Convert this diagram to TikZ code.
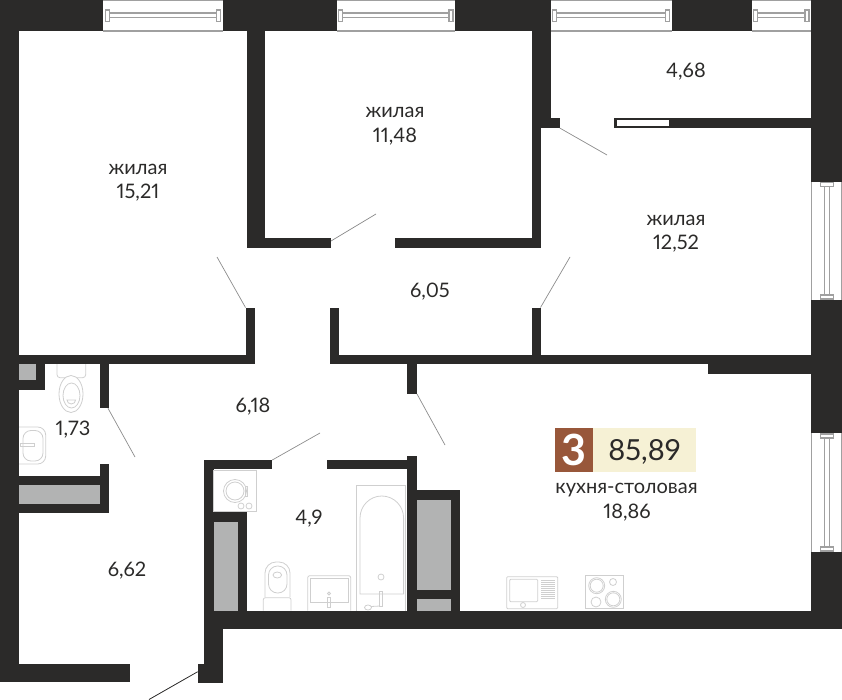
\documentclass[tikz,border=0pt]{standalone}
\usepackage{fontspec}
\setmainfont[Numbers=Proportional]{Lato}
\definecolor{wall}{HTML}{2B2A29}
\definecolor{shaft}{HTML}{B2B3B3}
\definecolor{fix}{HTML}{CFCFCF}
\definecolor{winc}{HTML}{A0A0A0}
\definecolor{brown}{HTML}{98573A}
\definecolor{cream}{HTML}{F6F1D5}
\definecolor{txt}{HTML}{2B2A29}
\tikzset{
  wallr/.style={fill=wall,draw=none},
  shaftr/.style={fill=shaft,draw=none},
  fixl/.style={draw=fix,line width=0.8pt,fill=none},
  winl/.style={draw=winc,line width=1.3pt},
  doorl/.style={draw=black!45,line width=0.7pt},
  lbl/.style={text=txt,font=\fontsize{20}{20}\selectfont,inner sep=0pt,align=center,anchor=center},
}
\newcommand{\HWin}[2]{% x1 x2, top windows
  \draw[winl] (#1,0.7) -- (#2,0.7) (#1,31) -- (#2,31);
  \draw[winl] (#1+6,13) -- (#2-6,13) (#1+6,17.5) -- (#2-6,17.5);
  \draw[winl,fill=white] (#1+2,10) rectangle (#1+6,21.5);
  \draw[winl,fill=white] (#2-6,10) rectangle (#2-2,21.5);
}
\newcommand{\VWin}[2]{% y1 y2, right windows
  \draw[winl] (811.7,#1) -- (811.7,#2) (841.3,#1) -- (841.3,#2);
  \draw[winl] (824.5,#1+5) -- (824.5,#2-5) (829.5,#1+5) -- (829.5,#2-5);
  \draw[winl,fill=white] (820.5,#1+1) rectangle (833.5,#1+5);
  \draw[winl,fill=white] (820.5,#2-5) rectangle (833.5,#2-1);
}
\begin{document}
\begin{tikzpicture}[x=1pt,y=-1pt]
\useasboundingbox (0,0) rectangle (842,700);
% windows
\HWin{103.3}{222.5}
\HWin{336.7}{455}
\HWin{550.7}{671.7}
\HWin{751.7}{811}
\VWin{181.7}{300}
\VWin{433}{552}
% shafts
\fill[shaftr] (18.7,364) rectangle (35.7,380.3);
\fill[shaftr] (18.7,485) rectangle (99.7,503.7);
\fill[shaftr] (213.7,521.7) rectangle (238.3,610.7);
\fill[shaftr] (416.7,499.7) rectangle (450.7,589.7);
\fill[shaftr] (416.7,599) rectangle (450.7,610.7);
% walls
\fill[wallr] (0,0) rectangle (103.3,31);
\fill[wallr] (222.5,0) rectangle (336.7,31);
\fill[wallr] (455,0) rectangle (550.7,31);
\fill[wallr] (671.7,0) rectangle (751.7,31);
\fill[wallr] (811,0) rectangle (842,181.7);
\fill[wallr] (811,300) rectangle (842,433);
\fill[wallr] (811,552) rectangle (842,629);
\fill[wallr] (0,0) rectangle (18.7,682);
\fill[wallr] (0,664) rectangle (129.7,682);
\fill[wallr] (246.7,31) rectangle (265.3,248);
\fill[wallr] (246.7,238.5) rectangle (330.5,248);
\fill[wallr] (395,238.5) rectangle (540.7,248);
\fill[wallr] (531.7,31) rectangle (550.7,128);
\fill[wallr] (531.7,128) rectangle (540.7,248);
\fill[wallr] (550,118.3) rectangle (559.7,128);
\fill[wallr] (614.3,118.3) rectangle (811,128);
\fill[white] (616.5,120.3) rectangle (669,126);
\fill[wallr] (0,354.7) rectangle (255,363.7);
\fill[wallr] (246,308) rectangle (255,363.7);
\fill[wallr] (330,308) rectangle (339,363.7);
\fill[wallr] (330,354.7) rectangle (708,363.7);
\fill[wallr] (708,354.7) rectangle (811,373.5);
\fill[wallr] (531.7,308) rectangle (540.7,354.7);
\fill[wallr] (407.3,363) rectangle (416.7,394);
\fill[wallr] (99.7,363) rectangle (108.7,408.3);
\fill[wallr] (35.7,363) rectangle (45,390);
\fill[wallr] (18,380.3) rectangle (45,390);
\fill[wallr] (99.7,464) rectangle (108.7,513);
\fill[wallr] (18,476.3) rectangle (108.7,485);
\fill[wallr] (18,503.7) rectangle (108.7,513);
\fill[wallr] (204.3,460) rectangle (272.3,469);
\fill[wallr] (327.3,460) rectangle (416.7,469);
\fill[wallr] (407.3,456) rectangle (416.7,610.7);
\fill[wallr] (204.3,460) rectangle (213.7,611);
\fill[wallr] (213,511.7) rectangle (247.3,521.7);
\fill[wallr] (238.3,511.7) rectangle (247.3,611);
\fill[wallr] (416,490.3) rectangle (460,499.7);
\fill[wallr] (450.7,490.3) rectangle (460,611);
\fill[wallr] (416,589.7) rectangle (451,599);
\fill[wallr] (204.3,610.7) rectangle (842,629);
\fill[wallr] (204.3,610.7) rectangle (223.3,682.5);
\fill[wallr] (197.7,664) rectangle (223.3,682.5);
% door leaves
\draw[doorl] (245.5,307.5) -- (217,257);
\draw[doorl] (331,241) -- (376,214);
\draw[doorl] (540.5,307.5) -- (570,257);
\draw[doorl] (559.7,128) -- (607,155);
\draw[doorl] (108,408.3) -- (135,457);
\draw[doorl] (417,394) -- (445,445);
\draw[doorl] (272.3,460) -- (320,433);
\draw[draw=wall,line width=0.8pt] (197.7,671.7) -- (149,699.5);
% WC 1.73 fixtures
\draw[fixl,rounded corners=3pt] (57,364) -- (57,377.7) -- (85.7,377.7) -- (85.7,364);
\draw[fixl,fill=white] (71,394) ellipse (12 and 18.5);
\draw[fixl] (71.5,395.5) ellipse (8.5 and 12.5);
\draw[fixl] (67,400) arc (180:0:4.3 and 4) -- cycle;
\draw[fixl,rounded corners=8pt] (19,427) -- (45.7,427) -- (45.7,464) -- (19,464);
\draw[fixl,rounded corners=8pt] (23,430.5) -- (43,430.5) -- (43,461) -- (23,461) -- cycle;
\draw[fixl] (20.5,443.5) rectangle (34,446.5);
% washer
\draw[fixl] (213.7,470) rectangle (256,511.7);
\draw[fixl] (235,491) circle (11.5);
\draw[fixl] (235,491) circle (9);
\draw[fixl] (245,486) rectangle (247.5,496);
\draw[fixl] (241,506) circle (3);
\draw[fixl] (249,506) circle (3);
% toilet 2
\draw[fixl,rounded corners=2pt] (263.3,610.5) -- (263.3,597.7) -- (291,597.7) -- (291,610.5);
\draw[fixl,rounded corners=11pt] (265,597) -- (265,562) -- (290,562) -- (290,597);
\draw[fixl,rounded corners=9pt] (268.5,593) -- (268.5,566) -- (287,566) -- (287,593) -- cycle;
\draw[fixl] (277.3,575) ellipse (4.3 and 3);
% sink 2
\draw[fixl,rounded corners=2pt] (307.7,610.5) -- (307.7,575.7) -- (350.7,575.7) -- (350.7,610.5);
\draw[fixl] (310.5,578.7) rectangle (348,602);
\draw[fixl] (329,593.5) circle (1.5);
\draw[fixl] (327.5,597) rectangle (330.5,607);
% bath
\draw[fixl] (356.7,610.5) -- (356.7,485) -- (405.7,485) -- (405.7,610.5);
\draw[fixl] (360,594) -- (360,518) arc (180:360:21.8 and 22) -- (403.6,594) -- cycle;
\draw[fixl] (381,577) circle (3);
\draw[fixl] (379.5,591) rectangle (382.5,606);
\draw[fixl] (368,607.5) ellipse (3.5 and 2.5);
\draw[fixl] (371,606.5) -- (380,606);
% kitchen sink
\draw[fixl,rounded corners=1pt] (506.7,608.7) -- (506.7,576.7) -- (557.7,576.7) -- (557.7,608.7) -- cycle;
\draw[fixl,rounded corners=1pt] (509.7,579.3) rectangle (537.7,601.7);
\draw[fixl,fill=white] (523,605) circle (2.5);
\foreach \yy in {580,582,...,598} \draw[draw=fix,line width=0.6pt] (541,\yy) -- (555,\yy);
% hob
\draw[fixl] (585.3,575.7) rectangle (623.7,608.7);
\draw[fixl] (596.7,585.7) circle (8);
\draw[fixl] (596.7,585.7) circle (6.5);
\draw[fixl] (613,582) circle (3.5);
\draw[fixl] (596,602) circle (5);
\draw[fixl] (613.3,599.3) circle (8);
\draw[fixl] (613.3,599.3) circle (6.5);
% badge
\fill[cream] (593.3,427.7) rectangle (696,472);
\fill[brown] (554.7,427.7) rectangle (593.3,472);
\node[inner sep=0pt,text=white,font=\fontsize{43}{43}\selectfont\bfseries] (rooms) at (574,450) {3};
\node[lbl,font=\fontsize{29}{29}\selectfont] (total) at (644.5,452) {85,89};
% labels
\node[lbl] (a) at (138,169) {жилая};
\node[lbl] (b) at (138,193) {15,21};
\node[lbl] (c) at (395,112) {жилая};
\node[lbl] (d) at (395,137) {11,48};
\node[lbl] (e) at (676,220) {жилая};
\node[lbl] (f) at (676,244) {12,52};
\node[lbl] (g) at (686,72) {4,68};
\node[lbl] (h) at (430,292) {6,05};
\node[lbl] (i) at (253,407) {6,18};
\node[lbl] (j) at (73,430) {1,73};
\node[lbl] (k) at (127,571) {6,62};
\node[lbl] (l) at (309,519) {4,9};
\node[lbl] (m) at (626.5,490) {кухня-столовая};
\node[lbl] (n) at (627,513) {18,86};
\end{tikzpicture}
\end{document}
